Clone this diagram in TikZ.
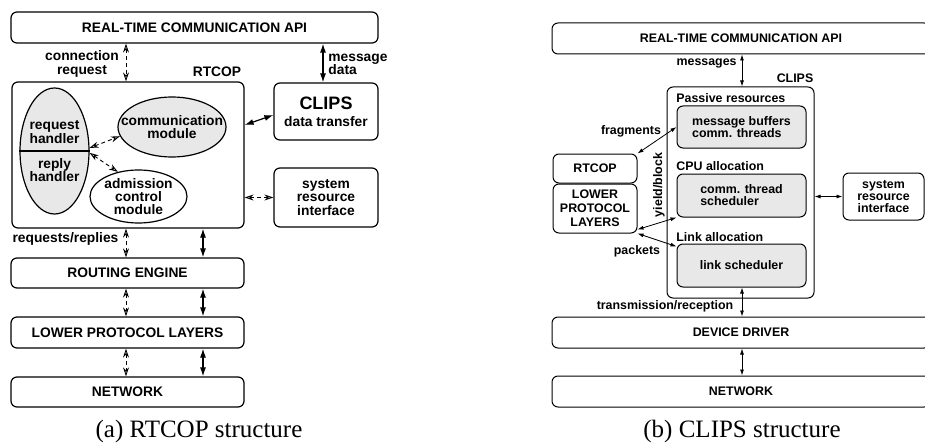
\documentclass[tikz,border=0pt]{standalone}
\usepackage{fontspec}
\setmainfont{Liberation Sans}
\newfontfamily\capserif{Liberation Serif}
\usetikzlibrary{positioning,shapes.geometric,arrows.meta}
\definecolor{modgray}{gray}{0.91}
\tikzset{fa/.style={font=\fontsize{6.9}{6.6}\selectfont\bfseries},
  fb/.style={font=\fontsize{6.2}{6}\selectfont\bfseries},
  lbl/.style={inner sep=0pt, align=center},
  boxa/.style 2 args={draw, rounded corners=3pt, line width=0.6pt, minimum width=#1*0.5pt, minimum height=#2*0.5pt, inner sep=0pt, fa, align=center},
  boxb/.style 2 args={draw, rounded corners=3pt, line width=0.5pt, minimum width=#1*0.5pt, minimum height=#2*0.5pt, inner sep=0pt, fb, align=center},
  ella/.style 2 args={draw, ellipse, line width=0.6pt, minimum width=#1*0.5pt, minimum height=#2*0.5pt, inner sep=0pt},
  solida/.style={line width=0.6pt, {Latex[length=4.5pt,width=3pt]}-{Latex[length=4.5pt,width=3pt]}},
  dasha/.style={line width=0.45pt, dash pattern=on 2pt off 1.5pt, {Stealth[open,length=4.5pt,width=3pt]}-{Stealth[open,length=4.5pt,width=3pt]}},
  thinb/.style={line width=0.4pt, {Latex[length=3pt,width=2pt]}-{Latex[length=3pt,width=2pt]}},
  figcap/.style={inner sep=0pt, font=\capserif\fontsize{12.5}{14}\selectfont}}

\begin{document}
\begin{tikzpicture}[x=0.5pt,y=-0.5pt]
\clip (0,0) rectangle (925,444);
% (a) RTCOP
\node[boxa={367}{31}] (apiA) at (194.5,27.5) {REAL-TIME COMMUNICATION API};
\node[boxa={232}{146}] (rtcopA) at (128,155) {};
\node[boxa={104}{57}] (clipsA) at (326,111.5) {{\fontsize{9}{9}\selectfont CLIPS}\\[2pt]data transfer};
\node[boxa={104}{59}] (sriA) at (326,197.5) {system\\resource\\interface};
\node[boxa={233}{30}] (routeA) at (127.5,273) {ROUTING ENGINE};
\node[boxa={233}{31}] (lplA) at (127.5,332.5) {LOWER PROTOCOL LAYERS};
\node[boxa={233}{30}] (netA) at (127.5,392) {NETWORK};

\node[ella={69}{126}, fill=modgray] (handlerA) at (54.5,151) {};
\node[ella={108}{60}, fill=modgray] (commA) at (172,127) {};
\node[ella={97}{53}] (admA) at (138.5,196.5) {};
\draw[line width=0.6pt] (handlerA.west) -- (handlerA.east);
\node[lbl,fa] (reqA) at (54.5,132) {request\\handler};
\node[lbl,fa] (repA) at (54.5,170) {reply\\handler};
\node[lbl,fa] (commtxtA) at (commA) {communication\\module};
\node[lbl,fa] (admtxtA) at (admA) {admission\\control\\module};

\node[lbl,fa] (conreqA) at (82,64) {connection\\request};
\node[lbl,fa,align=left,anchor=west] (msgdataA) at (328,64) {message\\data};
\node[lbl,fa] (rtcoplblA) at (217,72) {RTCOP};
\node[lbl,fa] (reqrepA) at (65.5,239) {requests/replies};
\node[figcap] (capA) at (199,431) {(a) RTCOP structure};

\coordinate (dcolA) at (126,0);
\coordinate (scolA) at (203,0);
\coordinate (mcolA) at (323,0);

\draw[dasha] (apiA.south -| dcolA) -- (rtcopA.north -| dcolA);
\draw[solida] (apiA.south -| mcolA) -- (clipsA.north -| mcolA);
\draw[solida] ([yshift=15pt]rtcopA.east) -- ([yshift=-1.75pt]clipsA.west);
\draw[dasha] (rtcopA.east |- sriA.west) -- (sriA.west);
\draw[dasha] (handlerA.5) -- (commA.190);
\draw[dasha] (handlerA.-3) -- (admA.130);
\draw[dasha] (rtcopA.south -| dcolA) -- (routeA.north -| dcolA);
\draw[solida] (rtcopA.south -| scolA) -- (routeA.north -| scolA);
\draw[dasha] (routeA.south -| dcolA) -- (lplA.north -| dcolA);
\draw[solida] (routeA.south -| scolA) -- (lplA.north -| scolA);
\draw[dasha] (lplA.south -| dcolA) -- (netA.north -| dcolA);
\draw[solida] (lplA.south -| scolA) -- (netA.north -| scolA);

% (b) CLIPS
\node[boxb={378}{31}] (apiB) at (741,38.5) {REAL-TIME COMMUNICATION API};
\node[boxb={147}{211}] (clipsB) at (740.5,192.5) {};
\node[boxb={129}{42}, fill=modgray, align=left] (bufB) at (741.5,127) {message buffers\\comm. threads};
\node[boxb={129}{43}, fill=modgray, align=left] (cpuB) at (741.5,195.5) {comm. thread\\scheduler};
\node[boxb={129}{43}, fill=modgray] (linkB) at (741.5,265.5) {link scheduler};
\node[boxb={84}{29}] (rtcopB) at (595,168.5) {RTCOP};
\node[boxb={84}{49}, font=\fontsize{6.2}{7}\selectfont\bfseries] (lplB) at (595,208.5) {LOWER\\PROTOCOL\\LAYERS};
\node[boxb={81}{47}] (sriB) at (883.5,196.5) {system\\resource\\interface};
\node[boxb={378}{31}] (driverB) at (741,332.5) {DEVICE DRIVER};
\node[boxb={378}{31}] (netB) at (741,391.5) {NETWORK};

\node[lbl,fb,anchor=east] (msgB) at (737,63) {messages};
\node[lbl,fb] (clipslblB) at (795,78) {CLIPS};
\node[lbl,fb,anchor=west] (passB) at (676,98) {Passive resources};
\node[lbl,fb,anchor=west] (cpulblB) at (676,166) {CPU allocation};
\node[lbl,fb,anchor=west] (linklblB) at (676,237) {Link allocation};
\node[lbl,fb] (fragB) at (631,131) {fragments};
\node[lbl,fb,rotate=90] (yieldB) at (659,185) {yield/block};
\node[lbl,fb] (pktB) at (637,251) {packets};
\node[lbl,fb] (txrxB) at (665,306) {transmission/reception};
\node[figcap] (capB) at (742,431) {(b) CLIPS structure};

\coordinate (colB) at (742,0);

\draw[thinb] (apiB.south -| colB) -- (clipsB.north -| colB);
\draw[thinb] (rtcopB.north east) -- (bufB.west);
\draw[thinb] ([yshift=2pt]lplB.south east) -- (cpuB.south west);
\draw[thinb] (lplB.south east) -- ([yshift=-1.5pt]linkB.north west);
\draw[thinb] (clipsB.east |- sriB.west) -- (sriB.west);
\draw[thinb] (linkB.south -| colB) -- (driverB.north -| colB);
\draw[thinb] (driverB.south -| colB) -- (netB.north -| colB);
\end{tikzpicture}
\end{document}
